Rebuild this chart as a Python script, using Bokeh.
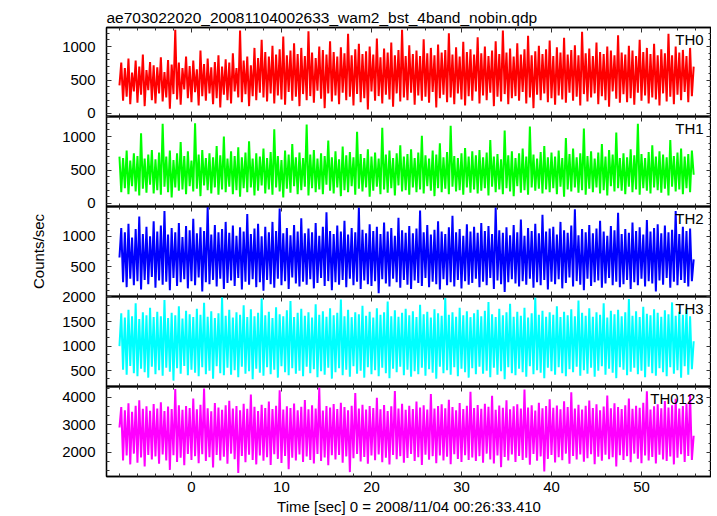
import numpy as np
from bokeh.plotting import figure
from bokeh.layouts import column
from bokeh.models import Range1d, LinearAxis, Label, SingleIntervalTicker, CustomJSTickFormatter, Title
from bokeh.embed import file_html
from bokeh.resources import INLINE

TITLE = "ae703022020_20081104002633_wam2_bst_4band_nobin.qdp"
X_LABEL = "Time [sec] 0 = 2008/11/04 00:26:33.410"
Y_LABEL = "Counts/sec"

t_start = -8.0
t_step = 0.2

th0 = [420, 760, 190, 680, 250, 820, 140, 610, 330, 790, 160, 700, 280, 880, 110, 650, 350, 770, 200, 720,
       150, 690, 300, 840, 180, 620, 240, 800, 70, 730, 290, 1250, 210, 760, 130, 680, 360, 850, 230, 710,
       170, 790, 320, 660, 120, 940, 260, 740, 190, 820, 300, 690, 140, 770, 230, 870, 90, 700, 280, 810,
       200, 760, 150, 900, 330, 680, 240, 1240, 170, 790, 290, 850, 110, 720, 260, 980, 200, 830, 310, 1100,
       240, 920, 180, 850, 300, 1010, 150, 880, 270, 960, 210, 1150, 130, 870, 320, 940, 190, 1050, 250, 890,
       110, 980, 290, 860, 200, 1230, 260, 910, 160, 830, 340, 1000, 220, 950, 80, 880, 300, 1080, 180, 920,
       270, 850, 140, 990, 310, 900, 200, 1190, 250, 870, 120, 960, 290, 1040, 170, 890, 230, 930, 60, 1000,
       330, 880, 190, 1120, 260, 840, 150, 970, 280, 910, 210, 1060, 100, 870, 300, 950, 180, 1250, 240, 860,
       200, 1020, 310, 890, 130, 940, 270, 860, 190, 1110, 250, 900, 160, 980, 320, 870, 90, 1030, 230, 910,
       280, 950, 170, 1200, 240, 880, 140, 990, 300, 850, 210, 1070, 120, 920, 260, 960, 190, 880, 330, 1140,
       150, 900, 270, 1000, 200, 860, 310, 940, 110, 1080, 250, 890, 180, 1240, 290, 910, 140, 970, 230, 850,
       260, 1050, 190, 880, 320, 960, 150, 1160, 240, 870, 80, 930, 280, 1010, 200, 890, 300, 960, 170, 1090,
       230, 860, 130, 990, 270, 910, 210, 1130, 160, 880, 310, 950, 190, 1020, 250, 870, 120, 1220, 290, 900,
       180, 970, 240, 860, 300, 1060, 140, 920, 260, 890, 200, 1000, 100, 940, 330, 870, 220, 1170, 160, 910,
       290, 880, 170, 1010, 230, 940, 130, 860, 310, 1100, 190, 920, 270, 980, 150, 890, 240, 1040, 210, 870,
       120, 960, 300, 900, 180, 1190, 250, 870, 140, 1000, 280, 910, 200, 950, 320, 860, 170, 980, 260, 700]

th1 = [700, 170, 680, 230, 790, 140, 640, 260, 750, 180, 710, 120, 1050, 220, 670, 160, 730, 280, 800, 150,
       660, 200, 760, 130, 1190, 250, 700, 170, 790, 90, 650, 240, 750, 190, 920, 210, 710, 140, 780, 260,
       640, 180, 1200, 220, 730, 110, 800, 270, 680, 200, 750, 150, 690, 240, 860, 130, 720, 210, 1000, 170,
       670, 250, 780, 140, 710, 200, 840, 100, 690, 230, 760, 170, 930, 240, 670, 120, 750, 190, 700, 270,
       820, 150, 680, 210, 770, 130, 1110, 240, 710, 180, 650, 90, 790, 220, 730, 160, 890, 260, 690, 140,
       760, 200, 680, 250, 1180, 120, 730, 230, 800, 170, 670, 210, 750, 140, 710, 280, 940, 190, 690, 150,
       780, 240, 660, 110, 850, 200, 720, 170, 770, 260, 690, 130, 1070, 220, 740, 180, 680, 240, 810, 100,
       700, 190, 760, 250, 670, 140, 1130, 210, 730, 160, 790, 230, 680, 120, 750, 270, 870, 180, 700, 200,
       740, 130, 810, 240, 680, 170, 760, 210, 1010, 150, 720, 260, 670, 190, 790, 110, 730, 230, 900, 170,
       690, 220, 770, 140, 1160, 250, 710, 180, 680, 200, 750, 130, 830, 240, 700, 160, 780, 210, 720, 150,
       800, 190, 690, 230, 760, 120, 950, 250, 700, 170, 740, 210, 660, 140, 1090, 230, 720, 180, 780, 110,
       680, 260, 750, 160, 820, 200, 700, 130, 1150, 240, 730, 190, 670, 220, 770, 150, 860, 210, 690, 170,
       760, 230, 700, 140, 790, 250, 680, 100, 980, 210, 740, 180, 820, 240, 690, 160, 750, 200, 1120, 130,
       710, 220, 780, 170, 670, 240, 760, 150, 890, 200, 700, 120, 800, 260, 730, 180, 1060, 230, 680, 190,
       750, 140, 690, 250, 810, 170, 720, 210, 1190, 130, 740, 230, 680, 190, 770, 150, 870, 240, 700, 200,
       780, 160, 730, 220, 690, 120, 950, 250, 710, 180, 760, 210, 820, 140, 700, 230, 740, 170, 790, 430]

th2 = [650, 1140, 240, 1070, 160, 1210, 300, 980, 190, 1120, 260, 1330, 120, 1040, 280, 1160, 210, 1000, 330, 1250,
       150, 1080, 270, 1180, 200, 1420, 250, 1030, 110, 1140, 310, 1070, 180, 1220, 240, 990, 290, 1170, 140, 1100,
       260, 1290, 190, 1050, 320, 1150, 90, 1090, 240, 1490, 210, 1030, 280, 1190, 170, 1070, 300, 1120, 130, 1240,
       230, 1060, 270, 1180, 180, 1010, 310, 1150, 120, 1080, 250, 1370, 200, 1040, 290, 1130, 160, 1210, 240, 1000,
       100, 1160, 280, 1070, 210, 1240, 150, 1090, 300, 1460, 190, 1050, 260, 1140, 130, 1020, 320, 1190, 220, 1080,
       170, 1300, 250, 1050, 200, 1130, 290, 1070, 140, 1220, 230, 1010, 310, 1160, 180, 1400, 260, 1090, 110, 1040,
       240, 1180, 200, 1080, 280, 1260, 160, 1030, 300, 1140, 190, 1070, 250, 1480, 130, 1110, 270, 1050, 210, 1200,
       180, 1090, 260, 1160, 60, 1040, 290, 1230, 220, 1080, 170, 1140, 300, 1010, 240, 1310, 150, 1100, 280, 1060,
       200, 1170, 130, 1050, 270, 1130, 230, 1430, 180, 1070, 310, 1190, 160, 1030, 250, 1110, 210, 1250, 120, 1080,
       290, 1040, 190, 1150, 240, 1340, 170, 1070, 280, 1120, 140, 1010, 260, 1200, 200, 1080, 230, 1160, 300, 1060,
       160, 1220, 250, 1090, 190, 1170, 310, 1040, 130, 1480, 270, 1100, 210, 1060, 80, 1150, 240, 1020, 290, 1190,
       220, 1070, 170, 1280, 260, 1010, 200, 1140, 300, 1090, 150, 1210, 240, 1050, 190, 1360, 280, 1080, 120, 1130,
       250, 1160, 210, 1030, 290, 1240, 140, 1100, 230, 1060, 320, 1180, 170, 1450, 260, 1020, 200, 1120, 110, 1070,
       300, 1190, 180, 1050, 240, 1130, 270, 1260, 150, 1080, 220, 1010, 310, 1170, 190, 1100, 250, 1390, 160, 1040,
       210, 1120, 280, 1060, 130, 1230, 240, 1090, 190, 1150, 300, 1030, 170, 1270, 260, 1080, 220, 1140, 90, 1200,
       270, 1050, 200, 1180, 310, 1070, 150, 1110, 250, 1420, 190, 1040, 280, 1160, 230, 1090, 170, 1130, 260, 620]

th3 = [1000, 1670, 520, 1580, 420, 1740, 600, 1610, 450, 1870, 390, 1550, 540, 1690, 470, 1630, 360, 1780, 580, 1590,
       430, 1700, 510, 1610, 400, 1940, 560, 1570, 480, 1680, 300, 1630, 550, 1810, 440, 1560, 600, 1720, 410, 1650,
       520, 1590, 460, 1760, 390, 1640, 570, 1880, 430, 1600, 500, 1710, 340, 1570, 590, 1670, 450, 2000, 410, 1620,
       560, 1740, 420, 1580, 510, 1690, 370, 1640, 580, 1830, 440, 1590, 490, 1750, 330, 1610, 540, 1680, 460, 1970,
       400, 1630, 570, 1700, 430, 1570, 520, 1790, 360, 1650, 590, 1610, 470, 1730, 410, 1920, 550, 1590, 440, 1680,
       500, 1760, 390, 1620, 580, 1690, 450, 1580, 530, 1850, 370, 1640, 490, 1710, 420, 1600, 560, 1770, 340, 1630,
       470, 1680, 550, 1950, 410, 1610, 520, 1740, 380, 1590, 590, 1690, 440, 1650, 500, 1820, 360, 1620, 570, 1700,
       430, 1580, 510, 1770, 390, 1640, 560, 1690, 450, 1910, 350, 1610, 540, 1730, 470, 1600, 580, 1680, 410, 1760,
       520, 1630, 380, 1710, 490, 1590, 430, 1840, 560, 1650, 400, 1700, 530, 1580, 460, 1750, 340, 1670, 580, 1620,
       450, 1980, 510, 1640, 420, 1690, 570, 1600, 390, 1780, 540, 1630, 470, 1710, 360, 1590, 550, 1670, 430, 1740,
       580, 1610, 440, 1720, 500, 1900, 370, 1650, 560, 1590, 420, 1760, 490, 1630, 330, 1690, 570, 1860, 450, 1600,
       410, 1700, 540, 1620, 470, 1780, 380, 1580, 590, 1670, 430, 1990, 510, 1640, 460, 1720, 350, 1600, 560, 1690,
       490, 1640, 420, 1810, 570, 1590, 450, 1700, 390, 1630, 530, 1750, 470, 1610, 580, 1930, 400, 1680, 510, 1620,
       440, 1770, 560, 1600, 380, 1690, 500, 1640, 590, 1870, 420, 1580, 540, 1720, 460, 1650, 350, 1740, 570, 1610,
       520, 1690, 410, 1960, 480, 1620, 560, 1710, 430, 1590, 500, 1800, 370, 1660, 580, 1630, 450, 1750, 400, 1680,
       550, 1600, 470, 1730, 390, 1650, 570, 1890, 440, 1620, 510, 1700, 360, 1640, 590, 1760, 420, 1610, 530, 1100]

th0123 = [2900, 3640, 1700, 3530, 1880, 3780, 1560, 3470, 1950, 3690, 1620, 3890, 1810, 3580, 1480, 3670, 1900, 3510, 1740, 3750,
          1850, 3590, 1580, 3820, 1920, 3500, 1700, 3660, 1360, 3570, 1890, 4300, 1650, 3710, 1800, 3540, 1530, 3680, 1940, 3610,
          1720, 3950, 1860, 3560, 1600, 3730, 1930, 4320, 1680, 3600, 1820, 3490, 1450, 3790, 1900, 3630, 1700, 3540, 1840, 3710,
          1580, 3870, 1950, 3590, 1750, 3680, 1250, 3530, 1870, 3760, 1640, 3580, 1910, 4100, 1720, 3650, 1560, 3500, 1880, 3730,
          1690, 3610, 1820, 3840, 1540, 3570, 1930, 3690, 1760, 4250, 1610, 3550, 1870, 3670, 1380, 3610, 1800, 3770, 1700, 3530,
          1920, 3650, 1650, 3900, 1850, 3560, 1720, 3710, 1590, 3590, 1940, 4350, 1680, 3520, 1810, 3680, 1530, 3630, 1890, 3750,
          1740, 3570, 1900, 3800, 1620, 3640, 1850, 3530, 1280, 3690, 1780, 4150, 1940, 3590, 1670, 3730, 1830, 3550, 1580, 3680,
          1880, 3610, 1710, 3980, 1920, 3560, 1640, 3720, 1800, 3500, 1560, 3670, 1900, 4230, 1750, 3590, 1860, 3760, 1620, 3540,
          1790, 3690, 1940, 3570, 1680, 3840, 1820, 3630, 1540, 3710, 1910, 3550, 1730, 4120, 1860, 3590, 1600, 3680, 1880, 3740,
          1700, 3600, 1840, 3910, 1570, 3640, 1930, 3530, 1760, 3790, 1650, 3570, 1890, 3690, 1720, 4200, 1810, 3610, 1680, 3720,
          1860, 3580, 1620, 3760, 1950, 3650, 1740, 4050, 1590, 3540, 1880, 3700, 1460, 3620, 1830, 3890, 1700, 3560, 1920, 3670,
          1650, 3740, 1870, 3590, 1720, 4280, 1800, 3630, 1550, 3710, 1940, 3520, 1690, 3800, 1850, 3600, 1300, 3680, 1760, 3930,
          1900, 3620, 1630, 3700, 1820, 3560, 1710, 3850, 1950, 3640, 1580, 4180, 1870, 3590, 1740, 3730, 1920, 3550, 1660, 3690,
          1780, 3880, 1930, 3610, 1570, 3740, 1840, 3530, 1690, 3660, 1910, 4060, 1750, 3600, 1820, 3780, 1480, 3640, 1890, 3570,
          1720, 3710, 1860, 3950, 1640, 3580, 1950, 3690, 1770, 3620, 1600, 3800, 1880, 4220, 1700, 3550, 1830, 3670, 1590, 3740,
          1910, 3600, 1740, 3860, 1680, 3630, 1850, 3710, 1560, 3940, 1800, 3590, 1930, 3680, 1650, 3760, 1870, 4100, 1720, 2600]

series_names = ["TH0", "TH1", "TH2", "TH3", "TH0123"]
series_values = [th0, th1, th2, th3, th0123]
series_colors = ["#ff0000", "#00ff00", "#0000ff", "#00ffff", "#ff00ff"]
y_limits = [(-45, 1285), (-45, 1300), (5, 1495), (180, 2010), (1120, 4390)]
y_major = [500, 500, 500, 500, 1000]
y_minor = [5, 5, 5, 3, 3]
x_limits = (-9.44, 57.78)

FONT = "Liberation Sans"
FS = "15px"
frame_heights = [89, 90, 90, 90, 90]
PAD = 12

x_range = Range1d(*x_limits)
blank = CustomJSTickFormatter(code="return '';")


def style_axis(ax, show_labels):
    ax.axis_line_color = "black"
    ax.axis_line_width = 1.3
    ax.major_tick_line_color = "#333333"
    ax.minor_tick_line_color = "#333333"
    ax.major_tick_in = 5
    ax.major_tick_out = 0
    ax.minor_tick_in = 3
    ax.minor_tick_out = 0
    ax.major_label_text_font = FONT
    ax.major_label_text_color = "black"
    ax.major_label_text_font_size = FS
    ax.axis_label_text_font = FONT
    ax.axis_label_text_font_style = "normal"
    ax.axis_label_text_font_size = FS
    ax.axis_label_text_color = "black"
    if not show_labels:
        ax.formatter = blank
        ax.major_label_standoff = 0


figs = []
n = len(series_names)
for i in range(n):
    lo, hi = y_limits[i]
    first = i == 0
    last = i == n - 1
    p = figure(frame_width=605, frame_height=frame_heights[i],
               x_range=x_range, y_range=Range1d(lo, hi),
               output_backend="svg", toolbar_location=None,
               min_border_left=106, min_border_right=0,
               min_border_top=27 if first else PAD,
               min_border_bottom=40 if last else PAD,
               background_fill_color=None, border_fill_color=None,
               margin=(0 if first else -PAD, 0, 0 if last else -PAD, 0))
    if first:
        p.title = Title(text=TITLE, text_font=FONT, text_font_size="15.5px",
                        text_font_style="normal", align="left", standoff=4,
                        offset=0, text_color="black")
    p.outline_line_color = "black"
    p.outline_line_width = 1.3
    p.xgrid.visible = False
    p.ygrid.visible = False

    xt = SingleIntervalTicker(interval=10, num_minor_ticks=5)
    yt = SingleIntervalTicker(interval=y_major[i], num_minor_ticks=y_minor[i])

    xb = p.xaxis[0]
    xb.ticker = xt
    style_axis(xb, last)
    if last:
        xb.axis_label = X_LABEL
        xb.major_label_standoff = 5
        xb.axis_label_standoff = 3

    yl = p.yaxis[0]
    yl.ticker = yt
    style_axis(yl, True)
    yl.major_label_standoff = 11
    if i == 2:
        yl.axis_label = Y_LABEL
        yl.axis_label_standoff = 12

    xa = LinearAxis(ticker=xt)
    style_axis(xa, False)
    p.add_layout(xa, "above")
    yr = LinearAxis(ticker=yt)
    style_axis(yr, False)
    p.add_layout(yr, "right")

    t = t_start + t_step * np.arange(len(series_values[i]))
    p.line(t, series_values[i], line_color=series_colors[i], line_width=2.0,
           line_join="bevel")

    p.add_layout(Label(x=56.9, y=hi - (hi - lo) * 3.0 / frame_heights[i],
                       text=series_names[i], text_align="right", text_baseline="top",
                       text_font=FONT, text_font_size=FS, text_color="black"))
    figs.append(p)

layout = column(*figs, spacing=0)
open("out.html", "w").write(file_html(layout, INLINE))
